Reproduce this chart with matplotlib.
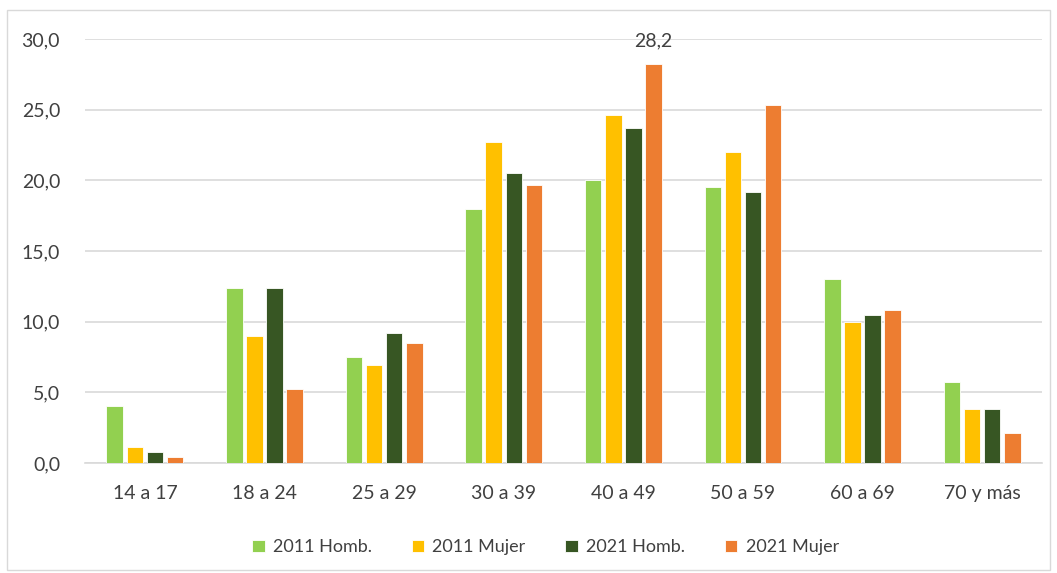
import numpy as np
import matplotlib.pyplot as plt
from matplotlib.patches import Rectangle

categories = ["14 a 17", "18 a 24", "25 a 29", "30 a 39", "40 a 49", "50 a 59", "60 a 69", "70 y más"]
series_names = ["2011 Homb.", "2011 Mujer", "2021 Homb.", "2021 Mujer"]
hombres_2011 = [4.0, 12.4, 7.5, 18.0, 20.0, 19.5, 13.0, 5.7]
mujeres_2011 = [1.1, 9.0, 6.9, 22.7, 24.6, 22.0, 10.0, 3.8]
hombres_2021 = [0.8, 12.4, 9.2, 20.5, 23.7, 19.2, 10.5, 3.8]
mujeres_2021 = [0.4, 5.2, 8.5, 19.7, 28.2, 25.3, 10.8, 2.1]
colors = ["#92d050", "#ffc000", "#375623", "#ed7d31"]

plt.rcParams['font.family'] = ['Lato', 'DejaVu Sans']
text_color = "#404040"

fig = plt.figure(figsize=(10.57, 5.73), dpi=100)
ax = fig.add_axes([0.0805, 0.192, 0.9053, 0.740])

x = np.arange(len(categories))
pitch = 0.168
width = 0.138
all_series = [hombres_2011, mujeres_2011, hombres_2021, mujeres_2021]
for i, (vals, name, c) in enumerate(zip(all_series, series_names, colors)):
    offs = (i - 1.5) * pitch
    ax.bar(x + offs, vals, width, color=c, label=name, zorder=3,
           edgecolor="white", linewidth=0.6)

# etiqueta del máximo
imax = int(np.argmax(mujeres_2021))
ax.text(x[imax] + 1.5 * pitch, 29.9, f"{mujeres_2021[imax]:.1f}".replace(".", ","),
        ha="center", va="center", fontsize=14, color=text_color, zorder=4)

ax.set_xlim(-0.5, len(categories) - 0.5)
ax.set_ylim(0, 30)
ax.set_yticks(np.arange(0, 31, 5))
ax.set_yticklabels([f"{v:.1f}".replace(".", ",") for v in np.arange(0, 31, 5)])
ax.set_xticks(x)
ax.set_xticklabels(categories)
ax.tick_params(axis="both", length=0, labelsize=14, colors=text_color)
ax.tick_params(axis="x", pad=16)
ax.tick_params(axis="y", pad=18)
ax.grid(axis="y", color="#d9d9d9", linewidth=1.2, zorder=0)
for s in ["top", "right", "left"]:
    ax.spines[s].set_visible(False)
ax.spines["bottom"].set_color("#d9d9d9")
ax.spines["bottom"].set_linewidth(1.2)

fig.legend(loc="center", bbox_to_anchor=(0.516, 0.045), ncol=4, frameon=False,
           fontsize=13, labelcolor=text_color, handlelength=0.7, handleheight=0.7,
           handletextpad=0.45, columnspacing=2.2)

fig.patches.append(Rectangle((7 / 1057, 3 / 573), 1043 / 1057, 560 / 573,
                             transform=fig.transFigure, fill=False,
                             edgecolor="#d9d9d9", linewidth=1))

fig.savefig("out.png", dpi=100)
